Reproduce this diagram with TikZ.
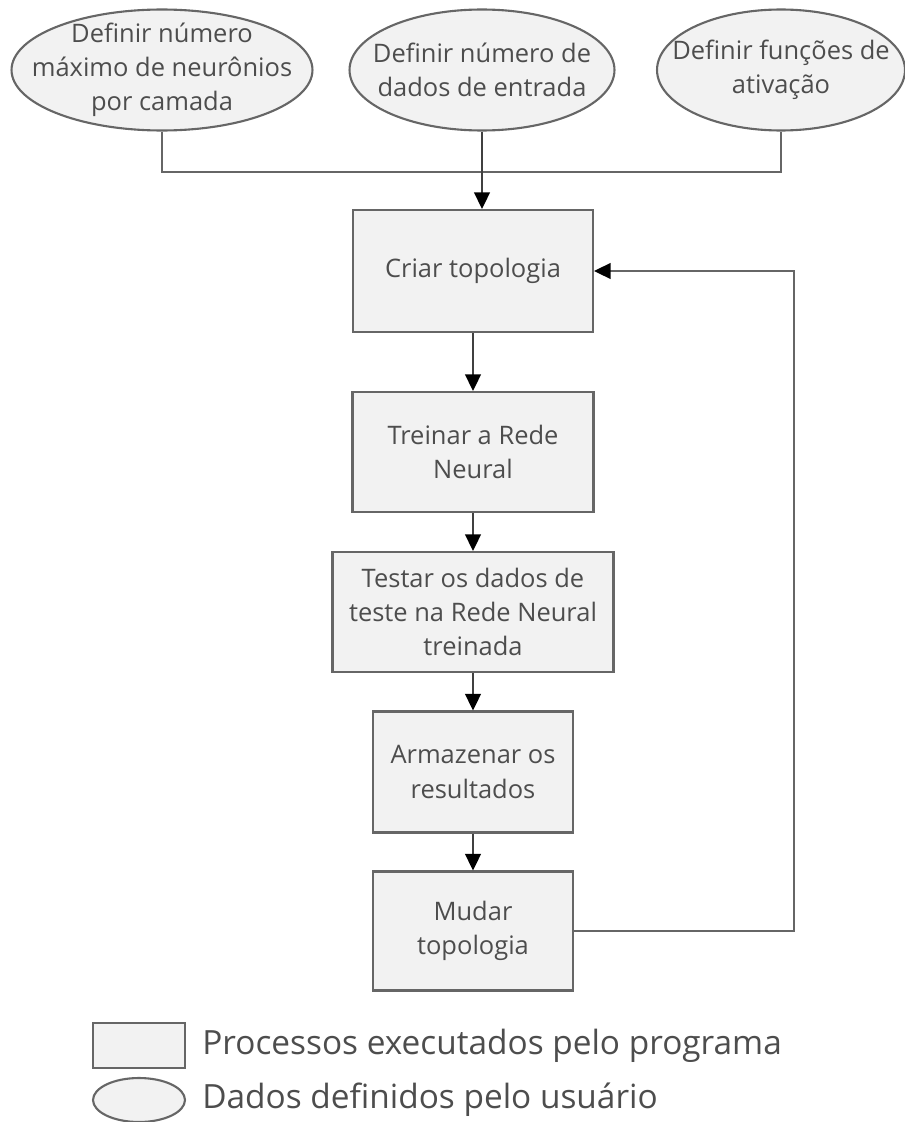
\documentclass[tikz,border=0pt]{standalone}
\usepackage{fontspec}
\setmainfont{Open Sans}
\usetikzlibrary{shapes.geometric,arrows.meta}

\definecolor{fundo}{HTML}{F2F2F2}
\definecolor{borda}{HTML}{666666}
\definecolor{texto}{HTML}{4D4D4D}

\begin{document}
\begin{tikzpicture}[
        x=0.02cm, y=-0.02cm,
        proc/.style={draw=borda, fill=fundo, line width=1.2pt, text=texto, align=center,
            font=\fontsize{14.5}{19.5}\selectfont, inner sep=2pt},
        dado/.style={draw=borda, fill=fundo, line width=1.2pt, ellipse, inner sep=0pt},
        rotulo/.style={text=texto, align=center, font=\fontsize{14.5}{19.5}\selectfont, inner sep=0pt},
        legenda/.style={text=texto, anchor=west, font=\fontsize{19}{22}\selectfont, inner sep=0pt},
        linha/.style={draw=borda, line width=1.2pt},
        ponta/.style={-{Triangle[length=9.5pt, width=9pt, fill=black, color=black]}},
        seta/.style={draw=black!75, line width=1.2pt, ponta}
    ]

    \useasboundingbox (0,0) rectangle (904,1122);

    % dados definidos pelo usuario
    \node[dado, minimum width=6.02cm, minimum height=2.42cm,
        label={[rotulo]center:{Definir número\\máximo de neurônios\\por camada}}] (maxNeur) at (162,70) {};
    \node[dado, minimum width=5.30cm, minimum height=2.42cm,
        label={[rotulo]center:{Definir número de\\dados de entrada}}] (numEnt) at (482,70) {};
    \node[dado, minimum width=4.96cm, minimum height=2.42cm,
        label={[rotulo]center:{Definir funções de\\ativação}}] (funcAtiv) at (781,70) {};

    % processos executados pelo programa
    \node[proc, minimum width=4.80cm, minimum height=2.44cm] (criar) at (473,271) {Criar topologia};
    \node[proc, minimum width=4.82cm, minimum height=2.40cm] (treinar) at (473,452) {Treinar a Rede\\Neural};
    \node[proc, minimum width=5.62cm, minimum height=2.40cm] (testar) at (473,612) {Testar os dados de\\teste na Rede Neural\\treinada};
    \node[proc, minimum width=4.00cm, minimum height=2.42cm] (armazenar) at (473,772) {Armazenar os\\resultados};
    \node[proc, minimum width=4.00cm, minimum height=2.38cm] (mudar) at (473,931) {Mudar\\topologia};

    \coordinate (juncao) at (482,172);
    \coordinate (volta) at (794,600);

    \draw[linha] (maxNeur.south) |- (juncao) -| (funcAtiv.south);
    \draw[seta] (numEnt.south) -- (numEnt.south |- criar.north);
    \draw[seta] (criar) -- (treinar);
    \draw[seta] (treinar) -- (testar);
    \draw[seta] (testar) -- (armazenar);
    \draw[seta] (armazenar) -- (mudar);
    \draw[linha, ponta] (mudar.east) -| (volta) |- (criar.east);

    % legenda
    \node[proc, minimum width=1.84cm, minimum height=0.90cm] (legProc) at (139,1045.5) {};
    \node[dado, minimum width=1.84cm, minimum height=0.88cm] (legDado) at (139,1100) {};
    \node[legenda] (txtProc) at (202,1046) {Processos executados pelo programa};
    \node[legenda] (txtDado) at (202,1100) {Dados definidos pelo usuário};

\end{tikzpicture}
\end{document}
